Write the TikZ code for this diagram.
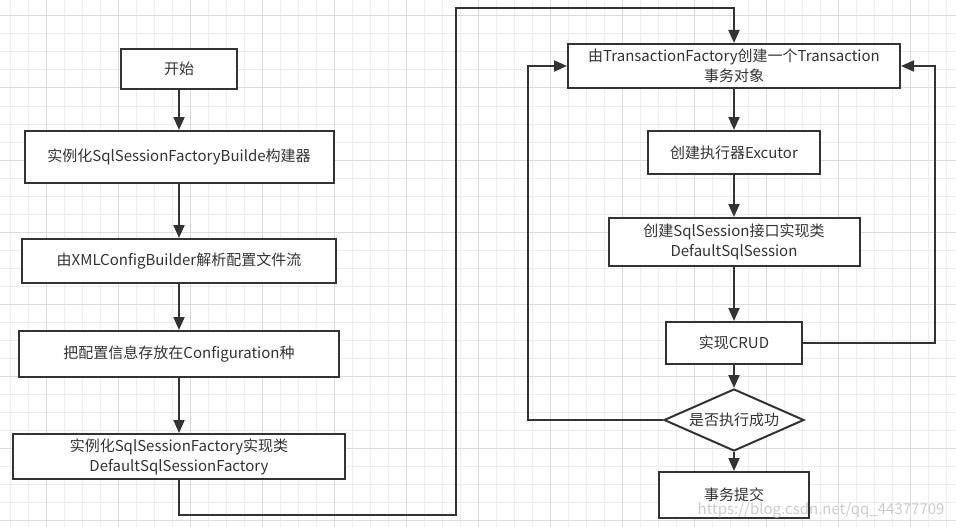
\documentclass[tikz,border=0pt]{standalone}
\usepackage{fontspec}
\setmainfont{Noto Sans CJK SC}
\usetikzlibrary{shapes.geometric,arrows.meta}
\definecolor{ink}{HTML}{333333}
\definecolor{gridminor}{HTML}{EDEDED}
\definecolor{gridmajor}{HTML}{DCDCDC}
\tikzset{
  box/.style={draw=ink,line width=2pt,fill=white,text=ink,inner sep=2pt,align=center,font=\fontsize{15}{20}\selectfont},
  flow/.style={draw=ink,line width=2pt,-{Triangle[length=13pt,width=11pt]}},
}
\begin{document}
\begin{tikzpicture}[x=1pt,y=-1pt]
      \pgfmathsetmacro{\lx}{179}
      \pgfmathsetmacro{\rx}{734}

      \useasboundingbox (0,0) rectangle (956,527);
      \fill[white] (0,0) rectangle (956,527);
      \foreach \gx in {10,28,...,956} \draw[gridminor,line width=1pt] (\gx,0) -- (\gx,527);
      \foreach \gy in {16,34,...,527} \draw[gridminor,line width=1pt] (0,\gy) -- (956,\gy);
      \foreach \gx in {46,118,...,956} \draw[gridmajor,line width=1pt] (\gx,0) -- (\gx,527);
      \foreach \gy in {16,88,...,527} \draw[gridmajor,line width=1pt] (0,\gy) -- (956,\gy);

      \node[box,minimum width=116pt,minimum height=40pt] (start) at (\lx,69) {开始};
      \node[box,minimum width=309pt,minimum height=52pt] (builder) at (\lx,157) {实例化SqlSessionFactoryBuilde构建器};
      \node[box,minimum width=314pt,minimum height=44pt] (parse) at (\lx,261) {由XMLConfigBuilder解析配置文件流};
      \node[box,minimum width=320pt,minimum height=46pt] (config) at (\lx,354) {把配置信息存放在Configuration种};
      \node[box,minimum width=332pt,minimum height=45pt] (factory) at (\lx,456.5) {实例化SqlSessionFactory实现类\\DefaultSqlSessionFactory};

      \node[box,minimum width=332pt,minimum height=44pt] (trans) at (\rx,66) {由TransactionFactory创建一个Transaction\\事务对象};
      \node[box,minimum width=172pt,minimum height=43pt] (exec) at (\rx,152.5) {创建执行器Excutor};
      \node[box,minimum width=251pt,minimum height=48pt] (session) at (\rx,242) {创建SqlSession接口实现类\\DefaultSqlSession};
      \node[box,minimum width=136pt,minimum height=42pt] (crud) at (\rx,343) {实现CRUD};
      \node[box,diamond,aspect=2.25,inner sep=0pt,minimum width=140pt,minimum height=62pt] (check) at (\rx,420) {是否执行成功};
      \node[box,minimum width=150pt,minimum height=46pt] (commit) at (\rx,495) {事务提交};

      \draw[flow] (start) -- (builder);
      \draw[flow] (builder) -- (parse);
      \draw[flow] (parse) -- (config);
      \draw[flow] (config) -- (factory);
      \draw[flow] (factory.south) |- (456,515) -- (456,8) -| (trans.north);
      \draw[flow] (trans) -- (exec);
      \draw[flow] (exec) -- (session);
      \draw[flow] (session) -- (crud);
      \draw[flow] (crud) -- (check);
      \draw[flow] (check) -- (commit);
      \draw[flow] (check.west) -- ++(-135,0) |- (trans.west);
      \draw[flow] (crud.east) -- ++(132,0) |- (trans.east);

      \node[text=gray!40,font=\fontsize{15}{18}\selectfont,anchor=east] (mark) at (948,510) {https://blog.csdn.net/qq\_44377709};
    \end{tikzpicture}
\end{document}
